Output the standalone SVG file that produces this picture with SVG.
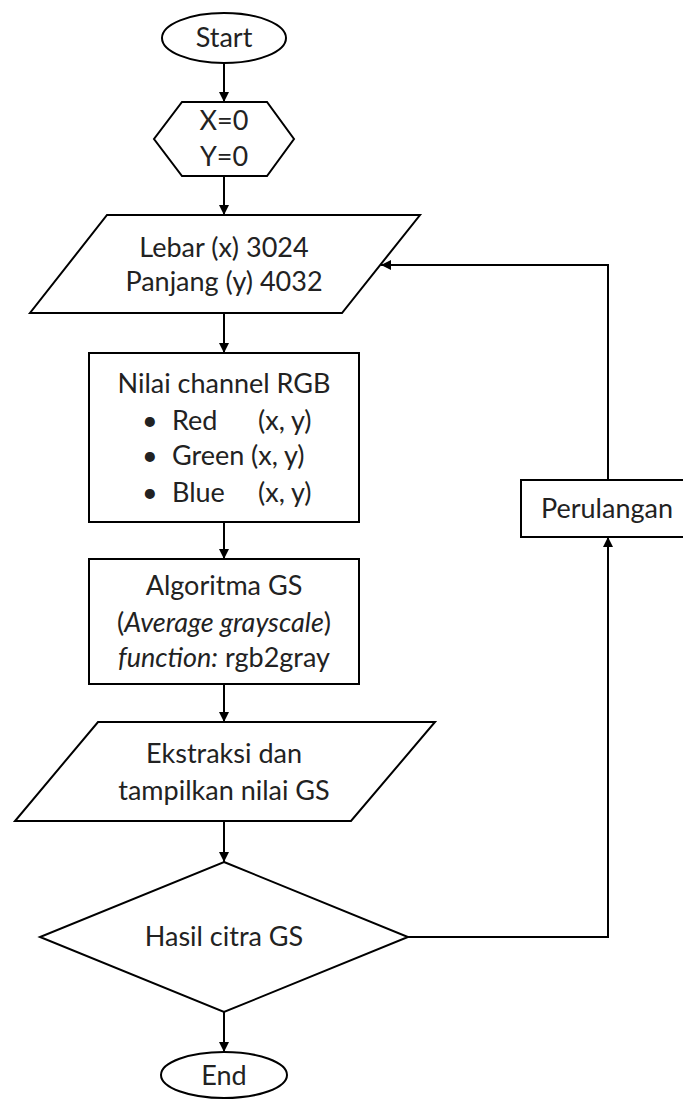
<svg xmlns="http://www.w3.org/2000/svg" width="683" height="1099" viewBox="0 0 683 1099">
<defs>
<marker id="ah" markerWidth="10" markerHeight="10" refX="10" refY="5" orient="auto" markerUnits="userSpaceOnUse">
<path d="M0,0 L10,5 L0,10 z" fill="#000"/>
</marker>
<style>
.s{fill:#fff;stroke:#000;stroke-width:2}
.t{font-family:Lato,"Open Sans","Liberation Sans",sans-serif;font-size:27px;fill:#222;text-anchor:middle}
.a{text-anchor:start}
.l{fill:none;stroke:#000;stroke-width:2}
</style>
</defs>
<rect width="683" height="1099" fill="#fff"/>
<g id="connectors">
<line class="l" x1="224" y1="63" x2="224" y2="102" marker-end="url(#ah)"/>
<line class="l" x1="224" y1="176" x2="224" y2="215" marker-end="url(#ah)"/>
<line class="l" x1="224" y1="313" x2="224" y2="353" marker-end="url(#ah)"/>
<line class="l" x1="224" y1="522" x2="224" y2="559" marker-end="url(#ah)"/>
<line class="l" x1="224" y1="684" x2="224" y2="722" marker-end="url(#ah)"/>
<line class="l" x1="224" y1="821" x2="224" y2="862" marker-end="url(#ah)"/>
<line class="l" x1="224" y1="1012" x2="224" y2="1052" marker-end="url(#ah)"/>
<polyline class="l" points="408,937 608,937 608,537" marker-end="url(#ah)"/>
<polyline class="l" points="608,480 608,265 381,265" marker-end="url(#ah)"/>
</g>
<g id="start">
<ellipse class="s" cx="224" cy="38" rx="62" ry="25"/>
<text class="t" x="224" y="47">Start</text>
</g>
<g id="init">
<polygon class="s" points="182,102 267,102 294,139 267,176 182,176 154,139"/>
<text class="t" x="224" y="130">X=0</text>
<text class="t" x="224" y="166">Y=0</text>
</g>
<g id="input">
<polygon class="s" points="107,215 420,215 342,313 30,313"/>
<text class="t" x="224" y="257">Lebar (x) 3024</text>
<text class="t" x="224" y="291">Panjang (y) 4032</text>
</g>
<g id="rgb">
<rect class="s" x="89" y="353" width="270" height="169"/>
<text class="t" x="224" y="393">Nilai channel RGB</text>
<text class="t a" x="142" y="430">•</text>
<text class="t a" x="172" y="430">Red</text>
<text class="t a" x="258" y="430">(x, y)</text>
<text class="t a" x="142" y="465">•</text>
<text class="t a" x="172" y="465">Green</text>
<text class="t a" x="251" y="465">(x, y)</text>
<text class="t a" x="142" y="502">•</text>
<text class="t a" x="172" y="502">Blue</text>
<text class="t a" x="258" y="502">(x, y)</text>
</g>
<g id="algo">
<rect class="s" x="89" y="559" width="270" height="125"/>
<text class="t" x="224" y="595">Algoritma GS</text>
<text class="t" x="224" y="632">(<tspan font-style="italic">Average grayscale</tspan>)</text>
<text class="t" x="224" y="667"><tspan font-style="italic">function:</tspan> rgb2gray</text>
</g>
<g id="output">
<polygon class="s" points="98,722 435,722 351,821 15,821"/>
<text class="t" x="224" y="763">Ekstraksi dan</text>
<text class="t" x="224" y="800">tampilkan nilai GS</text>
</g>
<g id="decision">
<polygon class="s" points="224,862 408,937 224,1012 40,937"/>
<text class="t" x="224" y="946">Hasil citra GS</text>
</g>
<g id="loop">
<rect class="s" x="521" y="480" width="180" height="57"/>
<text class="t" x="607" y="518">Perulangan</text>
</g>
<g id="end">
<ellipse class="s" cx="224" cy="1075" rx="63" ry="23"/>
<text class="t" x="224" y="1085">End</text>
</g>
</svg>
